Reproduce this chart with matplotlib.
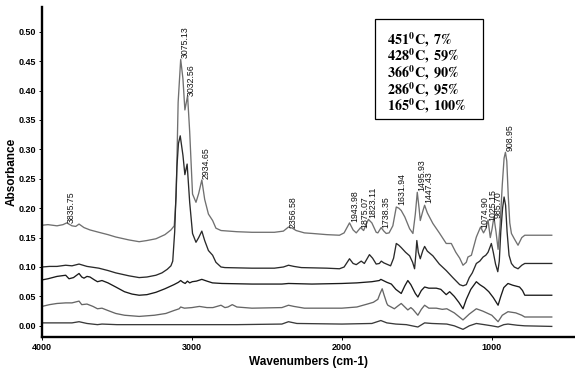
import matplotlib
matplotlib.use("Agg")
import matplotlib.pyplot as plt
from matplotlib.patches import Rectangle

# spectra: (wavenumber, absorbance), top trace first
trace_1 = [
    (4000, 0.171), (3960, 0.172), (3900, 0.170), (3860, 0.172), (3835, 0.175),
    (3800, 0.170), (3775, 0.169), (3753, 0.173), (3720, 0.167), (3680, 0.163),
    (3621, 0.159), (3560, 0.155), (3508, 0.151), (3420, 0.146), (3352, 0.143),
    (3300, 0.145), (3240, 0.148), (3180, 0.155), (3140, 0.163), (3118, 0.170),
    (3105, 0.220), (3092, 0.380), (3075, 0.453), (3060, 0.420), (3047, 0.367),
    (3029, 0.391), (3015, 0.330), (2996, 0.224), (2973, 0.210), (2955, 0.225),
    (2934, 0.248), (2915, 0.215), (2890, 0.190), (2862, 0.179), (2840, 0.166),
    (2806, 0.162), (2700, 0.160), (2600, 0.159), (2450, 0.159), (2390, 0.161),
    (2356, 0.168), (2330, 0.166), (2305, 0.162), (2250, 0.158), (2196, 0.157),
    (2100, 0.155), (2016, 0.154), (1985, 0.158), (1949, 0.175), (1925, 0.163),
    (1904, 0.158), (1875, 0.167), (1855, 0.162), (1823, 0.181), (1800, 0.175),
    (1771, 0.159), (1760, 0.158), (1738, 0.167), (1720, 0.161), (1704, 0.157),
    (1685, 0.158), (1660, 0.170), (1637, 0.202), (1620, 0.200), (1604, 0.196),
    (1580, 0.185), (1548, 0.165), (1526, 0.157), (1510, 0.190), (1497, 0.227),
    (1485, 0.200), (1477, 0.179), (1460, 0.195), (1448, 0.205), (1430, 0.192),
    (1393, 0.174), (1350, 0.158), (1304, 0.140), (1270, 0.140), (1240, 0.125),
    (1214, 0.115), (1192, 0.103), (1170, 0.108), (1159, 0.117), (1136, 0.120),
    (1103, 0.151), (1075, 0.168), (1055, 0.158), (1040, 0.165), (1025, 0.180),
    (1010, 0.150), (998, 0.165), (986, 0.185), (972, 0.160), (958, 0.130),
    (945, 0.170), (930, 0.240), (918, 0.285), (909, 0.295), (900, 0.280),
    (890, 0.220), (880, 0.175), (869, 0.157), (850, 0.148), (825, 0.137),
    (800, 0.150), (780, 0.154), (700, 0.154), (600, 0.154),
]
trace_2 = [
    (4000, 0.100), (3950, 0.101), (3900, 0.101), (3842, 0.103), (3800, 0.102),
    (3753, 0.105), (3700, 0.101), (3621, 0.098), (3560, 0.094), (3508, 0.090),
    (3420, 0.085), (3352, 0.082), (3300, 0.083), (3240, 0.086), (3200, 0.090),
    (3165, 0.096), (3140, 0.102), (3128, 0.110), (3115, 0.160), (3100, 0.270),
    (3090, 0.310), (3078, 0.323), (3060, 0.290), (3047, 0.257), (3032, 0.275),
    (3015, 0.210), (2996, 0.157), (2973, 0.142), (2955, 0.150), (2934, 0.161),
    (2915, 0.145), (2890, 0.128), (2862, 0.120), (2840, 0.108), (2806, 0.100),
    (2780, 0.099), (2600, 0.098), (2450, 0.098), (2390, 0.100), (2356, 0.103),
    (2320, 0.101), (2270, 0.099), (2100, 0.098), (2016, 0.097), (1985, 0.100),
    (1949, 0.114), (1925, 0.106), (1904, 0.104), (1871, 0.110), (1850, 0.106),
    (1816, 0.121), (1795, 0.115), (1771, 0.105), (1750, 0.106), (1737, 0.110),
    (1720, 0.107), (1693, 0.104), (1675, 0.102), (1655, 0.115), (1637, 0.140),
    (1620, 0.137), (1604, 0.133), (1575, 0.125), (1548, 0.119), (1528, 0.108),
    (1515, 0.097), (1507, 0.120), (1500, 0.145), (1490, 0.125), (1477, 0.114),
    (1460, 0.128), (1448, 0.135), (1430, 0.127), (1393, 0.119), (1350, 0.105),
    (1304, 0.094), (1260, 0.082), (1214, 0.070), (1192, 0.068), (1170, 0.070),
    (1150, 0.082), (1130, 0.090), (1103, 0.106), (1080, 0.110), (1058, 0.117),
    (1040, 0.120), (1025, 0.125), (1010, 0.135), (1003, 0.140), (990, 0.125),
    (975, 0.105), (960, 0.092), (950, 0.110), (940, 0.160), (928, 0.200),
    (918, 0.219), (908, 0.205), (898, 0.160), (885, 0.120), (869, 0.106),
    (850, 0.100), (825, 0.097), (800, 0.103), (780, 0.106), (600, 0.106),
]
trace_3 = [
    (4000, 0.078), (3960, 0.080), (3900, 0.084), (3842, 0.086), (3820, 0.080),
    (3790, 0.082), (3753, 0.089), (3735, 0.083), (3720, 0.081), (3700, 0.084),
    (3680, 0.083), (3650, 0.078), (3630, 0.075), (3600, 0.077), (3560, 0.073),
    (3508, 0.066), (3450, 0.058), (3400, 0.054), (3352, 0.052), (3300, 0.053),
    (3240, 0.057), (3180, 0.063), (3120, 0.070), (3090, 0.074), (3075, 0.077),
    (3060, 0.074), (3045, 0.072), (3030, 0.076), (3015, 0.073), (2998, 0.075),
    (2970, 0.076), (2934, 0.079), (2900, 0.076), (2863, 0.073), (2800, 0.072),
    (2600, 0.071), (2400, 0.071), (2356, 0.072), (2200, 0.071), (2000, 0.072),
    (1900, 0.073), (1800, 0.075), (1750, 0.077), (1740, 0.079), (1700, 0.074),
    (1670, 0.071), (1640, 0.062), (1604, 0.055), (1580, 0.068), (1560, 0.077),
    (1540, 0.070), (1510, 0.055), (1493, 0.049), (1470, 0.060), (1448, 0.066),
    (1420, 0.064), (1370, 0.064), (1340, 0.062), (1304, 0.053), (1281, 0.058),
    (1250, 0.050), (1220, 0.040), (1192, 0.029), (1170, 0.045), (1140, 0.062),
    (1103, 0.075), (1080, 0.070), (1050, 0.065), (1020, 0.058), (990, 0.048),
    (958, 0.035), (940, 0.050), (920, 0.065), (892, 0.072), (860, 0.069),
    (815, 0.066), (795, 0.060), (780, 0.052), (600, 0.052),
]
trace_4 = [
    (4000, 0.033), (3950, 0.036), (3900, 0.038), (3842, 0.039), (3800, 0.039),
    (3753, 0.042), (3735, 0.036), (3700, 0.037), (3660, 0.033), (3630, 0.029),
    (3600, 0.030), (3560, 0.026), (3508, 0.021), (3450, 0.018), (3352, 0.016),
    (3250, 0.018), (3174, 0.021), (3120, 0.026), (3085, 0.029), (3075, 0.032),
    (3050, 0.030), (3000, 0.031), (2950, 0.033), (2900, 0.031), (2860, 0.031),
    (2806, 0.035), (2780, 0.031), (2760, 0.032), (2731, 0.036), (2700, 0.032),
    (2600, 0.030), (2400, 0.031), (2356, 0.035), (2320, 0.033), (2250, 0.030),
    (2000, 0.030), (1900, 0.032), (1830, 0.037), (1790, 0.040), (1760, 0.045),
    (1745, 0.055), (1731, 0.063), (1718, 0.052), (1700, 0.038), (1693, 0.035),
    (1650, 0.029), (1625, 0.034), (1604, 0.038), (1580, 0.032), (1560, 0.027),
    (1540, 0.031), (1526, 0.028), (1493, 0.018), (1470, 0.028), (1448, 0.035),
    (1420, 0.030), (1370, 0.030), (1330, 0.028), (1300, 0.029), (1250, 0.022),
    (1192, 0.010), (1150, 0.020), (1103, 0.029), (1060, 0.025), (1000, 0.018),
    (958, 0.007), (930, 0.018), (892, 0.024), (840, 0.022), (800, 0.018),
    (780, 0.015), (600, 0.015),
]
trace_5 = [
    (4000, 0.005), (3900, 0.005), (3800, 0.005), (3753, 0.007), (3700, 0.004),
    (3630, 0.002), (3600, 0.003), (3500, 0.002), (3300, 0.002), (3000, 0.002),
    (2700, 0.002), (2400, 0.003), (2356, 0.007), (2300, 0.004), (2000, 0.003),
    (1800, 0.004), (1740, 0.009), (1700, 0.005), (1640, 0.003), (1570, 0.002),
    (1493, -0.002), (1448, 0.005), (1400, 0.004), (1300, 0.003), (1250, 0.000),
    (1192, -0.006), (1150, 0.000), (1103, 0.004), (1050, 0.002), (1000, 0.000),
    (958, -0.002), (920, 0.002), (892, 0.003), (830, 0.001), (780, 0.000),
    (600, -0.001),
]
traces = [trace_1, trace_2, trace_3, trace_4, trace_5]
trace_colors = ['#707070', '#2a2a2a', '#1a1a1a', '#666666', '#3a3a3a']

# peak labels and the height their bottom sits at
peak_labels = ['3835.75', '3075.13', '3032.56', '2934.65', '2356.58', '1943.98',
               '1875.07', '1823.11', '1738.35', '1631.94', '1495.93', '1447.43',
               '1074.90', '1025.15', '985.70', '908.95']
peak_heights = [0.174, 0.455, 0.391, 0.249, 0.167, 0.176, 0.166, 0.183, 0.166,
                0.205, 0.230, 0.208, 0.167, 0.179, 0.184, 0.298]

legend_lines = [('451', '7'), ('428', '59'), ('366', '90'), ('286', '95'), ('165', '100')]

plt.rcParams['font.family'] = ['Liberation Sans', 'DejaVu Sans']
plt.rcParams['mathtext.fontset'] = 'stix'

fig = plt.figure(figsize=(5.75, 3.68), dpi=100)
ax = fig.add_axes([42 / 575, 31 / 368, 533 / 575, 330 / 368])

for tr, col in zip(traces, trace_colors):
    wn = [p[0] for p in tr]
    ab = [p[1] for p in tr]
    ax.plot(wn, ab, color=col, lw=0.95)

for lab, h in zip(peak_labels, peak_heights):
    ax.text(float(lab), h, lab, rotation=90, ha='left', va='bottom',
            fontsize=6.3, color='#111111')

ax.set_xlim(4000, 445)
ax.set_ylim(-0.019, 0.542)
ax.set_xticks([4000, 3000, 2000, 1000])
ax.set_yticks([0.0, 0.05, 0.10, 0.15, 0.20, 0.25, 0.30, 0.35, 0.40, 0.45, 0.50])
ax.set_yticklabels(['%.2f' % v for v in ax.get_yticks()])
ax.tick_params(axis='both', labelsize=6.5, length=2, width=0.7, pad=2)
for t in ax.get_xticklabels() + ax.get_yticklabels():
    t.set_fontweight('bold')

for s in ['top', 'right']:
    ax.spines[s].set_visible(False)
for s in ['left', 'bottom']:
    ax.spines[s].set_linewidth(1.7)

ax.set_xlabel('Wavenumbers (cm-1)', fontsize=8.5, fontweight='bold', labelpad=3)
ax.set_ylabel('Absorbance', fontsize=8.5, fontweight='bold', labelpad=0.5)

# legend box
ax.add_patch(Rectangle((0.625, 0.661), 0.202, 0.303, transform=ax.transAxes,
                       facecolor='white', edgecolor='black', lw=0.9, zorder=5))
for i, (temp, pct) in enumerate(legend_lines):
    ax.text(0.647, 0.888 - i * 0.0505,
            r'$\mathbf{%s^0C,\ %s\%%}$' % (temp, pct),
            transform=ax.transAxes, fontsize=10.2, ha='left', va='baseline',
            zorder=6)

fig.savefig('out.png', dpi=100)
